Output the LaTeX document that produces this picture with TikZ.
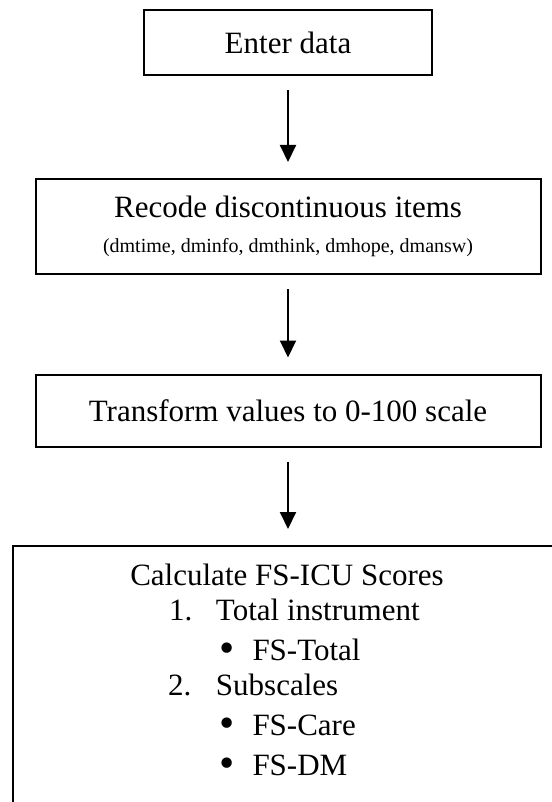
\documentclass[tikz,border=0pt]{standalone}
\usepackage{fontspec}
\setmainfont{Liberation Serif}
\usetikzlibrary{positioning, arrows.meta}
\newcommand{\listdot}{\makebox[16.5pt][l]{\smash{\raisebox{-1pt}{\scalebox{1.4}{\textbullet}}}}}

\begin{document}
\begin{tikzpicture}[
		x=0.5pt, y=-0.5pt,
		->,
		>={Triangle[length=8.5pt, width=8pt]},
		line width=1pt,
		node distance=92pt,
		font=\fontsize{15.5}{17.5}\selectfont,
		every node/.style={inner sep=0pt},
		stepbox/.style={draw, rectangle, line width=1pt, align=center},
		flow/.style={shorten <=7pt, shorten >=8pt}]

	\useasboundingbox (0,0) rectangle (551,802);

	\node[stepbox, minimum width=144pt, minimum height=32.5pt] (enter) at (288,42.5) {Enter data};
	\node[stepbox, below of=enter, minimum width=252.5pt, minimum height=47.5pt] (recode) {Recode discontinuous items\\{\fontsize{10}{12}\selectfont (dmtime, dminfo, dmthink, dmhope, dmansw)}};
	\node[stepbox, below of=recode, minimum width=252.5pt, minimum height=36pt] (transform) {Transform values to 0-100 scale};
	\node[stepbox, anchor=north west, minimum width=284pt, minimum height=150pt] (calc) at (12,545) {};

	% list inside the last box
	\node[anchor=base] (calctitle) at (287,585) {Calculate FS-ICU Scores};
	\node[anchor=base west] (total) at (168,620.5) {\makebox[23.5pt][l]{1.}Total instrument};
	\node[anchor=base west] (fstotal) at (218.5,660) {\listdot FS-Total};
	\node[anchor=base west] (subscales) at (167,695.5) {\makebox[24pt][l]{2.}Subscales};
	\node[anchor=base west] (fscare) at (218.5,735.5) {\listdot FS-Care};
	\node[anchor=base west] (fsdm) at (218.5,775) {\listdot FS-DM};

	\draw[flow] (enter) -- (recode);
	\draw[flow] (recode) -- (transform);
	\draw[flow] (transform) -- (transform |- calc.north);

\end{tikzpicture}
\end{document}
